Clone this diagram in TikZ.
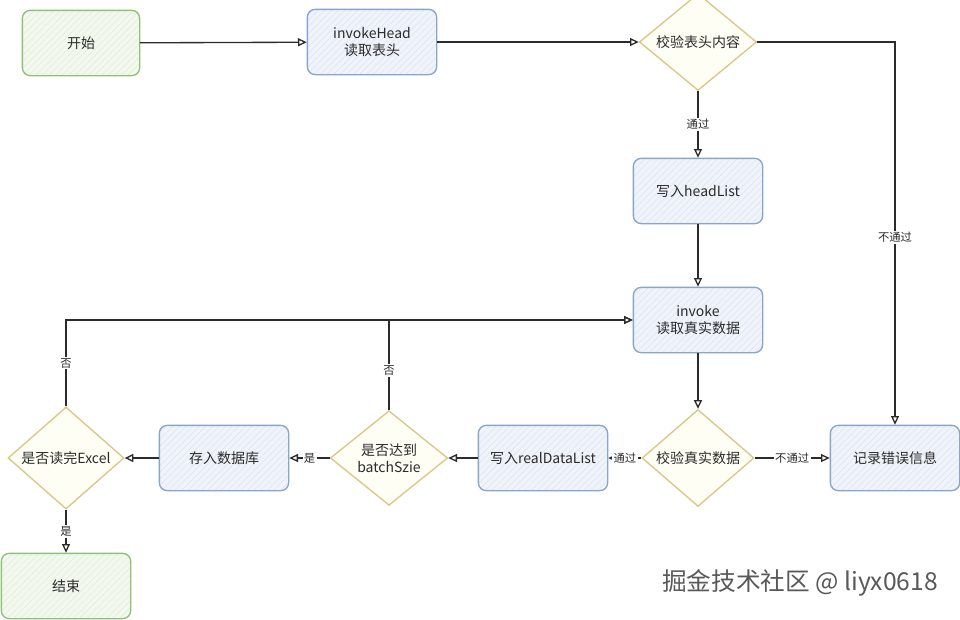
\documentclass[tikz,border=0pt]{standalone}
\usepackage{fontspec}
\setmainfont{Noto Sans CJK SC}
\usepackage{xcolor}
\usetikzlibrary{arrows.meta,shapes.geometric,patterns.meta}
\definecolor{termline}{HTML}{92C07A}
\definecolor{termfill}{HTML}{F2F8EE}
\definecolor{stepline}{HTML}{8CA3CC}
\definecolor{stepfill}{HTML}{EFF3FA}
\definecolor{testline}{HTML}{D8C787}
\definecolor{testfill}{HTML}{FFFEF5}
\definecolor{ink}{HTML}{2B2B2B}

\begin{document}
\begin{tikzpicture}[x=0.75pt, y=-0.75pt, font=\fontsize{10.5}{13}\selectfont, text=ink,
	term/.style={draw=termline, line width=1pt, rounded corners=6pt, minimum width=88pt, minimum height=49pt, align=center,
		preaction={fill=termfill}, pattern={Lines[angle=45,distance=3.5pt,line width=0.25pt]}, pattern color=termline!35},
	stepbox/.style={draw=stepline, line width=1pt, rounded corners=6pt, minimum width=97pt, minimum height=49pt, align=center,
		preaction={fill=stepfill}, pattern={Lines[angle=45,distance=3.5pt,line width=0.25pt]}, pattern color=stepline!35},
	test/.style={diamond, draw=testline, line width=1pt, inner sep=0pt, minimum width=88pt, minimum height=64pt, align=center,
		fill=testfill},
	arr/.style={draw=ink, line width=1pt, -{Triangle[open, length=6.5pt, width=6pt]}},
	lbl/.style={fill=white, inner sep=1pt, font=\fontsize{8.5}{10}\selectfont}]
	\useasboundingbox (0,0) rectangle (960,619);
	% top row
	\node[term] (start) at (81,43) {开始};
	\node[stepbox] (head) at (372,42) {invokeHead\\读取表头};
	\node[test] (chkhead) at (698,42) {校验表头内容};
	% middle column
	\node[stepbox] (headlist) at (698,191) {写入headList};
	\node[stepbox] (invoke) at (698,320) {invoke\\读取真实数据};
	% bottom row
	\node[test, minimum width=84pt] (chkdata) at (698,458) {校验真实数据};
	\node[stepbox] (errlog) at (895,458) {记录错误信息};
	\node[stepbox] (reallist) at (543,458) {写入realDataList};
	\node[test, minimum height=71pt] (batch) at (389,458) {是否达到\\batchSzie};
	\node[stepbox] (savedb) at (224,458) {存入数据库};
	\node[test, minimum width=87pt] (readall) at (66,458) {是否读完Excel};
	\node[term, minimum width=97pt] (finish) at (66,586) {结束};
	% watermark
	\node[text=black!65, font=\fontsize{18.5}{22}\selectfont] (mark) at (800,583) {掘金技术社区 @ liyx0618};

	\draw[arr] (start) -- (head);
	\draw[arr] (head) -- (chkhead);
	\draw[arr] (chkhead.east) -| node[lbl, pos=0.755] {不通过} (errlog.north);
	\draw[arr] (chkhead) -- node[lbl] {通过} (headlist);
	\draw[arr] (headlist) -- (invoke);
	\draw[arr] (invoke) -- (chkdata);
	\draw[arr] (chkdata) -- node[lbl] {通过} (reallist);
	\draw[arr] (chkdata) -- node[lbl] {不通过} (errlog);
	\draw[arr] (reallist) -- (batch);
	\draw[arr] (batch) -- node[lbl] {是} (savedb);
	\draw[arr] (savedb) -- (readall);
	\draw[arr] (batch.north) |- node[lbl, pos=0.22] {否} (invoke.west);
	\draw[arr] (readall.north) |- node[lbl, pos=0.25] {否} (invoke.west);
	\draw[arr] (readall) -- node[lbl] {是} (finish);
\end{tikzpicture}
\end{document}
